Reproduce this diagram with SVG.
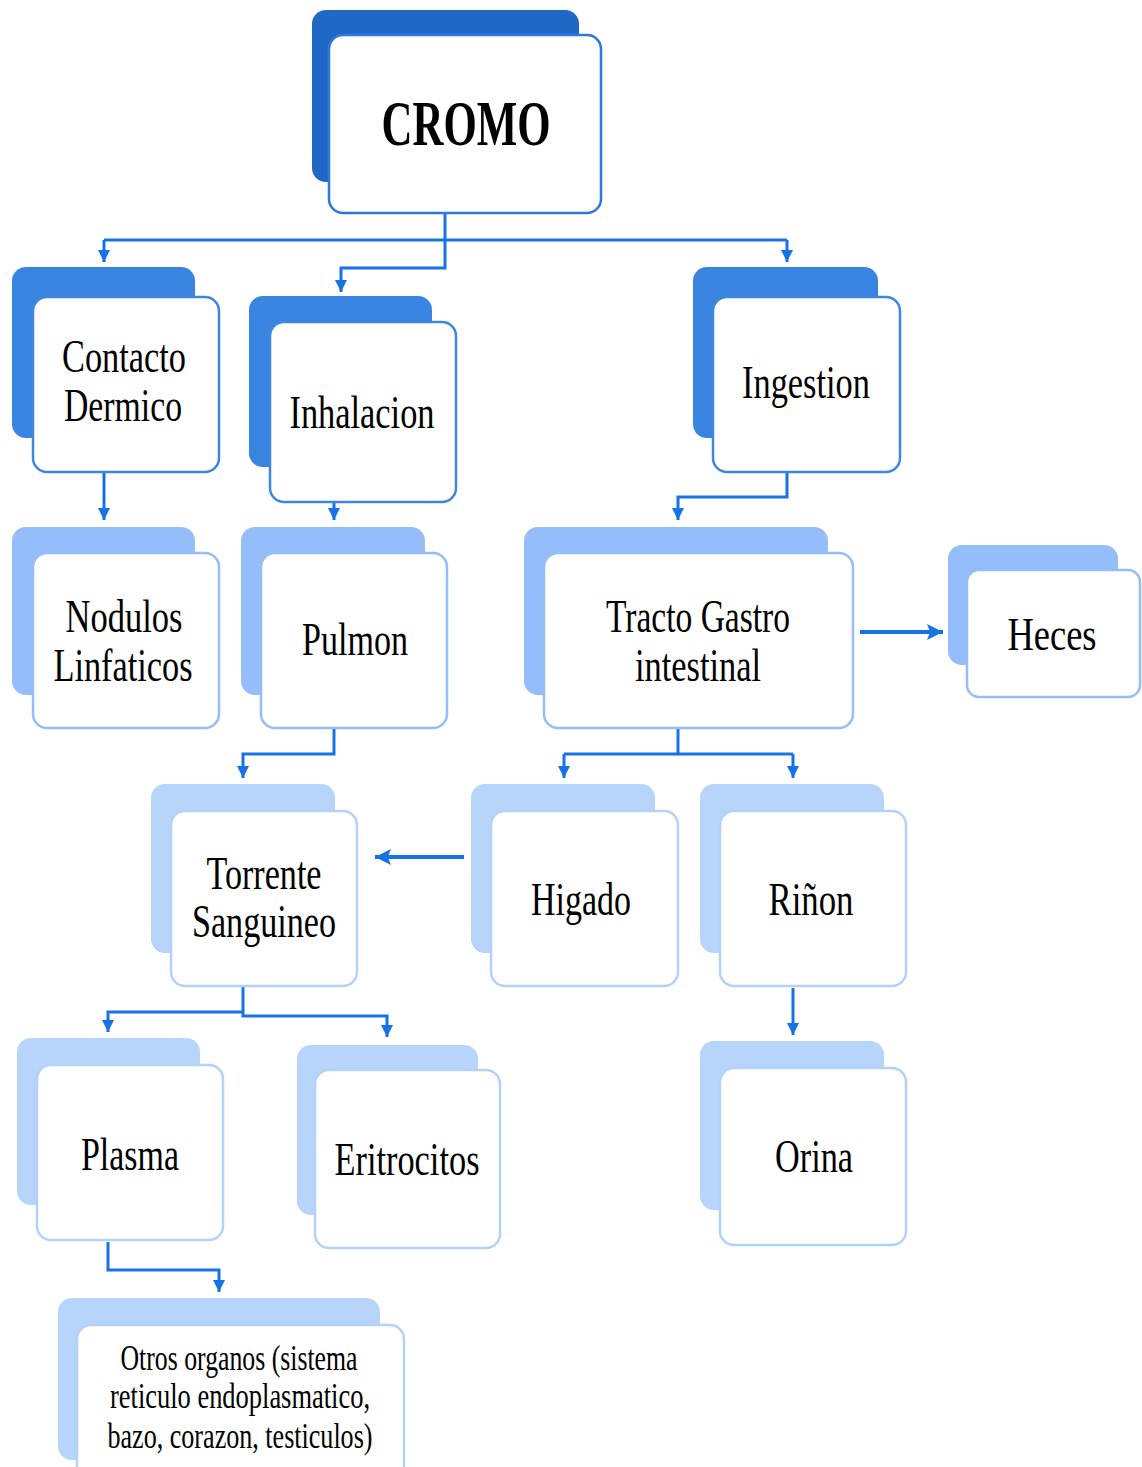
<svg xmlns="http://www.w3.org/2000/svg" width="1142" height="1467" viewBox="0 0 1142 1467">
<defs>
<style>
.bk0{fill:#2068c6}
.bk1{fill:#3984e1}
.bk2{fill:#94bdf9}
.bk3{fill:#b7d5fb}
.fr{fill:#ffffff;stroke-width:2.5}
.f0{stroke:#2d77de}
.f1{stroke:#3d87e3}
.f2{stroke:#95bdf8}
.f3{stroke:#b3d2fb}
.t{fill:#000;text-anchor:middle}
.c{fill:none;stroke:#1772e6;stroke-width:3}
.cw{fill:none;stroke:#1772e6;stroke-width:4}
</style>
<marker id="ah" markerWidth="12" markerHeight="12" refX="10" refY="5" orient="auto" markerUnits="userSpaceOnUse" viewBox="0 0 10 10">
<path d="M0,0 L10,5 L0,10 z" fill="#1772e6"/>
</marker>
<marker id="ahb" markerWidth="16" markerHeight="16" refX="10" refY="5" orient="auto" markerUnits="userSpaceOnUse" viewBox="0 0 10 10">
<path d="M0,0 L10,5 L0,10 L2,5 z" fill="#1772e6"/>
</marker>
</defs>
<rect width="1142" height="1467" fill="#ffffff"/>

<g id="connectors">
<path class="c" d="M445,213 V240"/>
<path class="c" d="M104,240 H787"/>
<path class="c" d="M104,240 V262" marker-end="url(#ah)"/>
<path class="c" d="M787,240 V262" marker-end="url(#ah)"/>
<path class="c" d="M445,240 V268 H341 V292" marker-end="url(#ah)"/>
<path class="c" d="M104,472 V520" marker-end="url(#ah)"/>
<path class="c" d="M334,502 V520" marker-end="url(#ah)"/>
<path class="c" d="M787,472 V497 H678 V520" marker-end="url(#ah)"/>
<path class="cw" d="M860,632 H943" marker-end="url(#ahb)"/>
<path class="c" d="M334,728 V754 H243 V778" marker-end="url(#ah)"/>
<path class="c" d="M678,728 V754"/>
<path class="c" d="M564,754 H793"/>
<path class="c" d="M564,754 V778" marker-end="url(#ah)"/>
<path class="c" d="M793,754 V778" marker-end="url(#ah)"/>
<path class="cw" d="M464,857 H375" marker-end="url(#ahb)"/>
<path class="c" d="M243,986 V1012"/>
<path class="c" d="M243,1012 H108 V1032" marker-end="url(#ah)"/>
<path class="c" d="M243,1012 V1016 H387 V1037" marker-end="url(#ah)"/>
<path class="c" d="M793,988 V1035" marker-end="url(#ah)"/>
<path class="c" d="M108,1242 V1270 H219 V1292" marker-end="url(#ah)"/>
</g>

<g font-family="'Liberation Serif', 'Times New Roman', serif">
<g id="n-cromo">
<rect class="bk0" x="312" y="10" width="267" height="172" rx="14"/>
<rect class="fr f0" x="329" y="35" width="272" height="178" rx="14"/>
<text class="t" x="466" y="145" font-size="64" font-weight="bold" textLength="169" lengthAdjust="spacingAndGlyphs">CROMO</text>
</g>

<g id="n-contacto">
<rect class="bk1" x="12" y="267" width="183" height="171" rx="14"/>
<rect class="fr f1" x="33" y="297" width="186" height="175" rx="14"/>
<text class="t" x="124" y="372" font-size="47" textLength="124" lengthAdjust="spacingAndGlyphs">Contacto</text>
<text class="t" x="123" y="421" font-size="47" textLength="118" lengthAdjust="spacingAndGlyphs">Dermico</text>
</g>

<g id="n-inhalacion">
<rect class="bk1" x="249" y="296" width="183" height="171" rx="14"/>
<rect class="fr f1" x="270" y="322" width="186" height="180" rx="14"/>
<text class="t" x="362" y="428" font-size="47" textLength="145" lengthAdjust="spacingAndGlyphs">Inhalacion</text>
</g>

<g id="n-ingestion">
<rect class="bk1" x="693" y="267" width="185" height="171" rx="14"/>
<rect class="fr f1" x="713" y="297" width="187" height="175" rx="14"/>
<text class="t" x="806" y="398" font-size="47" textLength="128" lengthAdjust="spacingAndGlyphs">Ingestion</text>
</g>

<g id="n-nodulos">
<rect class="bk2" x="12" y="527" width="183" height="168" rx="14"/>
<rect class="fr f2" x="33" y="553" width="186" height="175" rx="14"/>
<text class="t" x="124" y="632" font-size="47" textLength="117" lengthAdjust="spacingAndGlyphs">Nodulos</text>
<text class="t" x="123" y="681" font-size="47" textLength="139" lengthAdjust="spacingAndGlyphs">Linfaticos</text>
</g>

<g id="n-pulmon">
<rect class="bk2" x="241" y="527" width="184" height="168" rx="14"/>
<rect class="fr f2" x="261" y="553" width="186" height="175" rx="14"/>
<text class="t" x="355" y="655" font-size="47" textLength="106" lengthAdjust="spacingAndGlyphs">Pulmon</text>
</g>

<g id="n-tracto">
<rect class="bk2" x="524" y="527" width="304" height="168" rx="14"/>
<rect class="fr f2" x="544" y="553" width="309" height="175" rx="14"/>
<text class="t" x="698" y="632" font-size="47" textLength="184" lengthAdjust="spacingAndGlyphs">Tracto Gastro</text>
<text class="t" x="698" y="681" font-size="47" textLength="126" lengthAdjust="spacingAndGlyphs">intestinal</text>
</g>

<g id="n-heces">
<rect class="bk2" x="948" y="545" width="170" height="120" rx="14"/>
<rect class="fr f2" x="967" y="570" width="173" height="127" rx="12"/>
<text class="t" x="1052" y="650" font-size="47" textLength="89" lengthAdjust="spacingAndGlyphs">Heces</text>
</g>

<g id="n-torrente">
<rect class="bk3" x="151" y="784" width="184" height="169" rx="14"/>
<rect class="fr f3" x="171" y="811" width="186" height="175" rx="14"/>
<text class="t" x="264" y="889" font-size="47" textLength="115" lengthAdjust="spacingAndGlyphs">Torrente</text>
<text class="t" x="264" y="937" font-size="47" textLength="144" lengthAdjust="spacingAndGlyphs">Sanguineo</text>
</g>

<g id="n-higado">
<rect class="bk3" x="471" y="784" width="184" height="169" rx="14"/>
<rect class="fr f3" x="491" y="811" width="187" height="175" rx="14"/>
<text class="t" x="581" y="915" font-size="47" textLength="100" lengthAdjust="spacingAndGlyphs">Higado</text>
</g>

<g id="n-rinon">
<rect class="bk3" x="700" y="784" width="184" height="169" rx="14"/>
<rect class="fr f3" x="720" y="811" width="186" height="175" rx="14"/>
<text class="t" x="811" y="915" font-size="47" textLength="85" lengthAdjust="spacingAndGlyphs">Riñon</text>
</g>

<g id="n-plasma">
<rect class="bk3" x="17" y="1038" width="183" height="167" rx="14"/>
<rect class="fr f3" x="37" y="1065" width="186" height="175" rx="14"/>
<text class="t" x="130" y="1170" font-size="47" textLength="98" lengthAdjust="spacingAndGlyphs">Plasma</text>
</g>

<g id="n-eritrocitos">
<rect class="bk3" x="297" y="1045" width="181" height="170" rx="14"/>
<rect class="fr f3" x="315" y="1070" width="185" height="178" rx="14"/>
<text class="t" x="407" y="1175" font-size="47" textLength="145" lengthAdjust="spacingAndGlyphs">Eritrocitos</text>
</g>

<g id="n-orina">
<rect class="bk3" x="700" y="1041" width="184" height="169" rx="14"/>
<rect class="fr f3" x="720" y="1068" width="186" height="177" rx="14"/>
<text class="t" x="814" y="1172" font-size="47" textLength="78" lengthAdjust="spacingAndGlyphs">Orina</text>
</g>

<g id="n-otros">
<rect class="bk3" x="58" y="1298" width="322" height="162" rx="14"/>
<rect class="fr f3" x="77" y="1325" width="327" height="160" rx="14"/>
<text class="t" x="239" y="1370" font-size="35" textLength="237" lengthAdjust="spacingAndGlyphs">Otros organos (sistema</text>
<text class="t" x="240" y="1408" font-size="35" textLength="260" lengthAdjust="spacingAndGlyphs">reticulo endoplasmatico,</text>
<text class="t" x="240" y="1448" font-size="35" textLength="265" lengthAdjust="spacingAndGlyphs">bazo, corazon, testiculos)</text>
</g>
</g>
</svg>
